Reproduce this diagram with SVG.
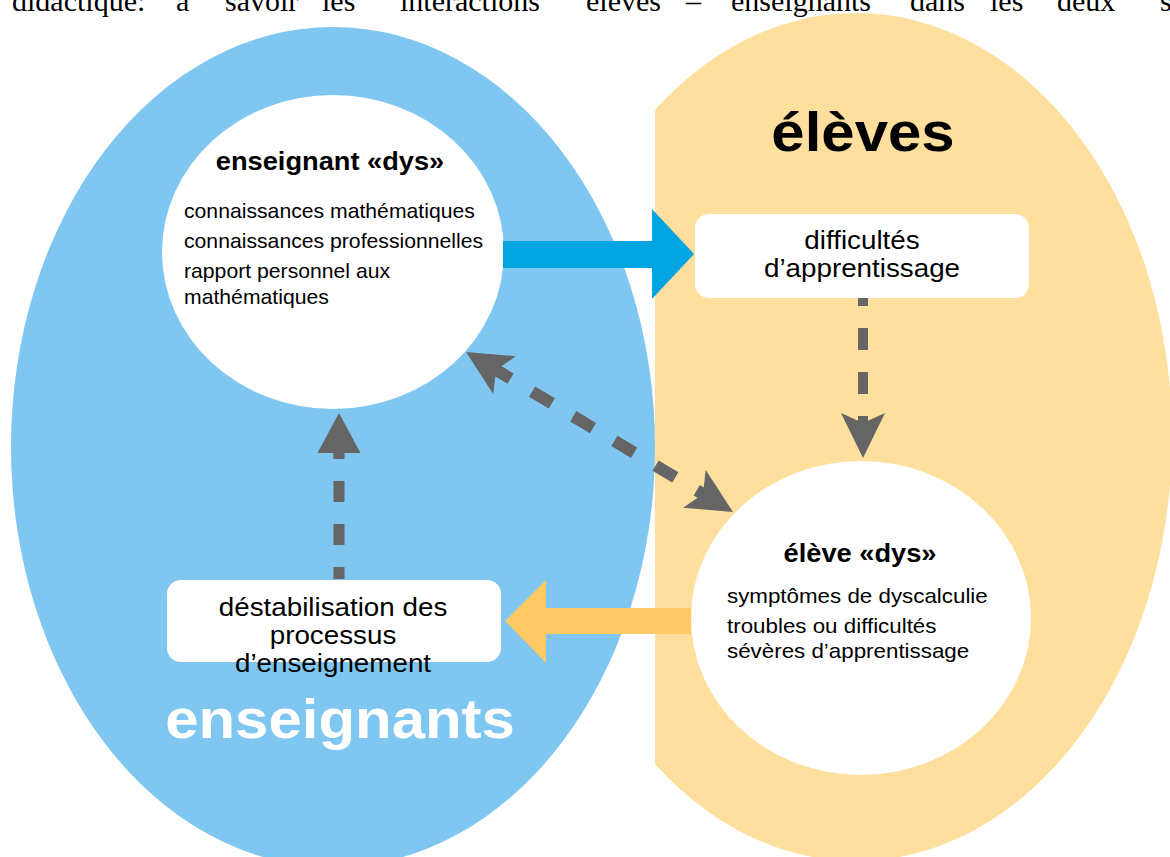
<svg xmlns="http://www.w3.org/2000/svg" xmlns:xlink="http://www.w3.org/1999/xlink" width="1170" height="857" viewBox="0 0 1170 857">
<style>
  .hdr { font-family: "Liberation Serif", "Times New Roman", serif; font-size: 30px; fill: #000; }
  .title { font-family: "Liberation Sans", Arial, sans-serif; font-weight: bold; font-size: 25px; fill: #000; }
  .body { font-family: "Liberation Sans", Arial, sans-serif; font-size: 20px; fill: #000; }
  .body2 { font-family: "Liberation Sans", Arial, sans-serif; font-size: 20.5px; fill: #000; }
  .box { font-family: "Liberation Sans", Arial, sans-serif; font-size: 25.5px; fill: #000; text-anchor: middle; }
  .big { font-family: "Liberation Sans", Arial, sans-serif; font-weight: bold; font-size: 55px; text-anchor: middle; }
  .gray { fill: #656565; }
  .dash { fill: none; stroke: #656565; }
  .card { fill: #ffffff; }
</style>
<defs>
  <clipPath id="clipRight"><rect x="655" y="0" width="515" height="857"/></clipPath>
  <path id="notchHead" d="M0,0 L-45,-22 L-35,0 L-45,22 Z"/>
  <path id="plainHead" d="M0,0 L-40,-21.5 L-40,21.5 Z"/>
</defs>

<rect x="0" y="0" width="1170" height="857" fill="#ffffff"/>

<text class="hdr" y="11"><tspan x="12">didactique:</tspan><tspan x="176">à</tspan><tspan x="225">savoir</tspan><tspan x="322">les</tspan><tspan x="400">interactions</tspan><tspan x="586">élèves</tspan><tspan x="686">–</tspan><tspan x="731">enseignants</tspan><tspan x="910">dans</tspan><tspan x="990">les</tspan><tspan x="1057">deux</tspan><tspan x="1160">s</tspan></text>

<g id="group-eleves">
  <ellipse cx="856" cy="437" rx="316" ry="424" fill="#FEDF9E" clip-path="url(#clipRight)"/>
  <text class="big" fill="#000" transform="translate(863,151) scale(1.09,1)">élèves</text>
</g>

<g id="group-enseignants">
  <ellipse cx="333" cy="447" rx="322" ry="420" fill="#7FC7F0"/>
  <text class="big" fill="#ffffff" transform="translate(340,738) scale(1.09,1)">enseignants</text>
</g>

<g id="node-enseignant-dys">
  <ellipse class="card" cx="333" cy="252" rx="171" ry="157"/>
  <text class="title" text-anchor="middle" transform="translate(330,170) scale(1.09,1)">enseignant «dys»</text>
  <text class="body" transform="translate(184,218) scale(1.06,1)">connaissances mathématiques</text>
  <text class="body" transform="translate(184,248) scale(1.06,1)">connaissances professionnelles</text>
  <text class="body" transform="translate(184,278) scale(1.06,1)">rapport personnel aux</text>
  <text class="body" transform="translate(184,304) scale(1.06,1)">mathématiques</text>
</g>

<g id="node-eleve-dys">
  <ellipse class="card" cx="861" cy="618" rx="170" ry="157"/>
  <text class="title" text-anchor="middle" transform="translate(860,562) scale(1.09,1)">élève «dys»</text>
  <text class="body2" transform="translate(727,603) scale(1.09,1)">symptômes de dyscalculie</text>
  <text class="body2" transform="translate(727,633) scale(1.09,1)">troubles ou difficultés</text>
  <text class="body2" transform="translate(727,658) scale(1.09,1)">sévères d’apprentissage</text>
</g>

<g id="node-difficultes">
  <rect class="card" x="695" y="214" width="334" height="84" rx="14"/>
  <text class="box" transform="translate(862,249) scale(1.09,1)">difficultés</text>
  <text class="box" transform="translate(862,277) scale(1.09,1)">d’apprentissage</text>
</g>

<g id="node-destabilisation">
  <rect class="card" x="167" y="580" width="334" height="82" rx="14"/>
  <text class="box" transform="translate(333,616) scale(1.09,1)">déstabilisation des</text>
  <text class="box" transform="translate(333,644) scale(1.09,1)">processus</text>
  <text class="box" transform="translate(333,672) scale(1.09,1)">d’enseignement</text>
</g>

<g id="connectors">
  <polygon fill="#00A4E1" points="503,241 652,241 652,209 694,254 652,299 652,268 503,268"/>
  <polygon fill="#FFC966" points="691,608 546,608 546,580 505,621 546,663 546,634 691,634"/>
  <path class="dash" stroke-width="10" stroke-dasharray="22 22" stroke-dashoffset="14" d="M863,298 L863,440"/>
  <use xlink:href="#notchHead" class="gray" transform="translate(863,458) rotate(90)"/>
  <path class="dash" stroke-width="11" stroke-dasharray="21 22" stroke-dashoffset="9" d="M339,579 L339,452"/>
  <use xlink:href="#plainHead" class="gray" transform="translate(339,413) rotate(-90)"/>
  <path class="dash" stroke-width="12" stroke-dasharray="23 25" d="M490.9,366.9 L716.7,502.2"/>
  <use xlink:href="#notchHead" class="gray" transform="translate(466,352) rotate(210.94)"/>
  <use xlink:href="#notchHead" class="gray" transform="translate(733,512) rotate(30.94)"/>
</g>
</svg>
